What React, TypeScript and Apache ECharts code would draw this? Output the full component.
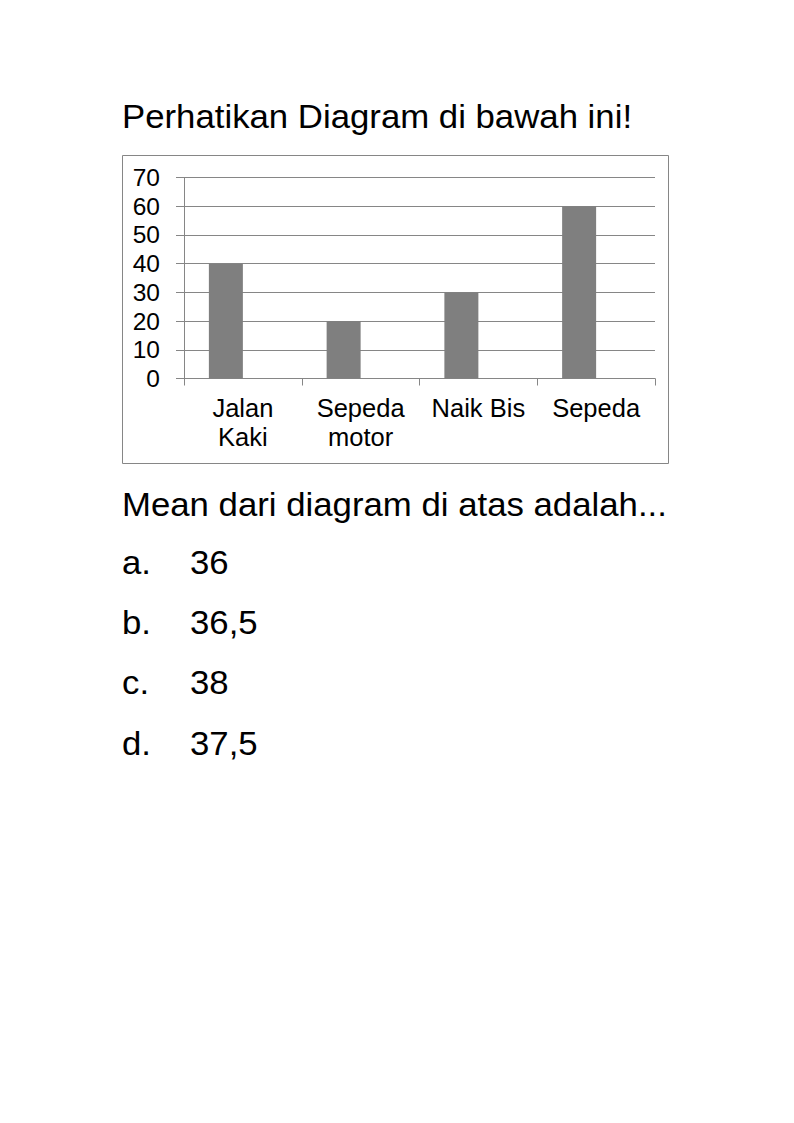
import React, { useEffect, useRef } from "react";
import * as echarts from "echarts";

const categories = ["Jalan\nKaki", "Sepeda\nmotor", "Naik Bis", "Sepeda"];
const values = [40, 20, 30, 60];
const emptySeries = [null, null, null, null];
const yTicks = { min: 0, max: 70, interval: 10 };
const titleText = "Perhatikan Diagram di bawah ini!";
const questionText = "Mean dari diagram di atas adalah...";
const optionLetters = ["a.", "b.", "c.", "d."];
const optionValues = ["36", "36,5", "38", "37,5"];

const FONT = '"Liberation Sans", Arial, sans-serif';
const GREY = "#868686";

export default function App() {
  const ref = useRef<HTMLDivElement>(null);
  useEffect(() => {
    if (!ref.current) return;
    const chart = echarts.init(ref.current, null, { renderer: "svg" });
    const textScale = 1.07;
    const textSize = 32.5;
    const optionY = [563, 623, 683, 744];
    const graphics: any[] = [
      {
        type: "rect",
        shape: { x: 122.5, y: 155.5, width: 546, height: 308 },
        style: { fill: "none", stroke: GREY, lineWidth: 1 },
        silent: true,
      },
      {
        type: "text",
        x: 122,
        y: 117,
        scaleX: textScale,
        style: { text: titleText, fontSize: textSize, fontFamily: FONT, fill: "#000", verticalAlign: "middle" },
      },
      {
        type: "text",
        x: 122,
        y: 505,
        scaleX: textScale,
        style: { text: questionText, fontSize: textSize, fontFamily: FONT, fill: "#000", verticalAlign: "middle" },
      },
    ];
    optionLetters.forEach((l, i) => {
      graphics.push({
        type: "text",
        x: 122,
        y: optionY[i],
        scaleX: textScale,
        style: { text: l, fontSize: textSize, fontFamily: FONT, fill: "#000", verticalAlign: "middle" },
      });
      graphics.push({
        type: "text",
        x: 190,
        y: optionY[i],
        scaleX: textScale,
        style: { text: optionValues[i], fontSize: textSize, fontFamily: FONT, fill: "#000", verticalAlign: "middle" },
      });
    });

    chart.setOption({
      animation: false,
      backgroundColor: "#fff",
      grid: { left: 184, top: 177.5, right: 139, bottom: 744.5, containLabel: false },
      xAxis: {
        type: "category",
        data: categories,
        boundaryGap: true,
        axisLine: { show: true, lineStyle: { color: GREY, width: 1 } },
        axisTick: { show: true, length: 7, lineStyle: { color: GREY } },
        axisLabel: { color: "#000", fontSize: 25.5, fontFamily: FONT, margin: 15, lineHeight: 29, interval: 0 },
        splitLine: { show: false },
      },
      yAxis: {
        type: "value",
        min: yTicks.min,
        max: yTicks.max,
        interval: yTicks.interval,
        axisLine: { show: true, lineStyle: { color: GREY, width: 1 } },
        axisTick: { show: true, length: 8, inside: false, lineStyle: { color: GREY } },
        axisLabel: { color: "#000", fontSize: 24.5, fontFamily: FONT, margin: 24 },
        splitLine: { show: true, lineStyle: { color: GREY, width: 1 } },
      },
      series: [
        {
          type: "bar",
          data: values,
          barWidth: 34,
          barGap: "0%",
          itemStyle: { color: "#7f7f7f" },
        },
        {
          type: "bar",
          data: emptySeries,
          barWidth: 34,
          barGap: "0%",
          itemStyle: { color: "#7f7f7f" },
        },
      ],
      graphic: graphics,
    });
    return () => chart.dispose();
  }, []);
  return <div ref={ref} style={{ position: "absolute", left: 0, top: 0, width: 794, height: 1123 }} />;
}
